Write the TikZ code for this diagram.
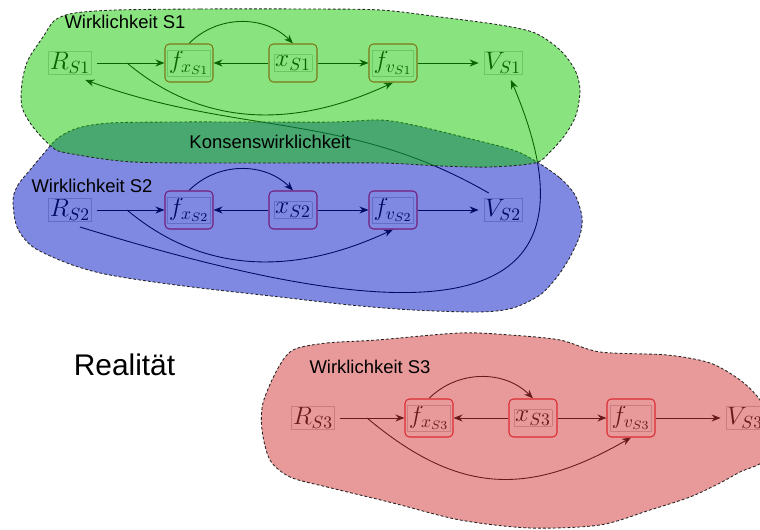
\documentclass[tikz,border=0pt]{standalone}
\usepackage{amsmath,amssymb}
\usepackage{xcolor}
\usepackage{fontspec}
\usepackage{tikz}
\usetikzlibrary{arrows.meta}
\usetikzlibrary{calc}
\newfontfamily\lblfont{Liberation Sans}
\pgfdeclarelayer{edgelayer}
\pgfdeclarelayer{nodelayer}
\pgfdeclarelayer{toplayer}
\pgfsetlayers{edgelayer,nodelayer,main,toplayer}
\definecolor{wgreen}{RGB}{19,201,0}
\definecolor{wblue}{RGB}{0,20,197}
\definecolor{wred}{RGB}{209,51,51}
\definecolor{boxred}{RGB}{228,36,46}
\tikzstyle{none}=[inner sep=0mm]
\tikzstyle{sig}=[inner sep=0pt,outer sep=1mm,font=\Large]
\tikzstyle{fbx}=[draw=boxred,rounded corners=2.5pt,line width=0.6pt,minimum width=0.96cm,minimum height=0.76cm,inner sep=0pt,font=\Large]
\tikzstyle{arr}=[-{Stealth[length=1.8mm,width=1.4mm]},line width=0.5pt]
\tikzstyle{blob}=[draw=black!85,dash pattern=on 1.6pt off 1.2pt,line width=0.5pt,fill opacity=0.5]
\tikzstyle{lbl}=[inner sep=0pt,font=\lblfont\fontsize{10.5}{12.6}\selectfont]
% faint frame round the math of a node
\newcommand{\tb}[1]{{\setlength{\fboxrule}{0.3pt}\setlength{\fboxsep}{0.5pt}\color{black!22}\fbox{\color{black}$#1$}}}

\begin{document}
\begin{tikzpicture}
	\useasboundingbox (0,0) rectangle (15.2,10.6);
	\begin{pgfonlayer}{nodelayer}
		\node [style=sig] (r1) at (1.4, 9.34) {\tb{R_{S1}}};
		\node [style=fbx] (fx1) at (3.78, 9.34) {\tb{f_{x_{S1}}}};
		\node [style=fbx] (x1) at (5.86, 9.34) {\tb{x_{S1}}};
		\node [style=fbx] (fv1) at (7.86, 9.34) {\tb{f_{v_{S1}}}};
		\node [style=sig] (v1) at (10.06, 9.34) {\tb{V_{S1}}};
		\coordinate (b1) at (2.54, 9.34);
		\node [style=sig] (r2) at (1.4, 6.4) {\tb{R_{S2}}};
		\node [style=fbx] (fx2) at (3.78, 6.4) {\tb{f_{x_{S2}}}};
		\node [style=fbx] (x2) at (5.86, 6.4) {\tb{x_{S2}}};
		\node [style=fbx] (fv2) at (7.86, 6.4) {\tb{f_{v_{S2}}}};
		\node [style=sig] (v2) at (10.06, 6.4) {\tb{V_{S2}}};
		\coordinate (b2) at (2.54, 6.4);
		\node [style=sig] (r3) at (6.26, 2.24) {\tb{R_{S3}}};
		\node [style=fbx] (fx3) at (8.58, 2.24) {\tb{f_{x_{S3}}}};
		\node [style=fbx] (x3) at (10.66, 2.24) {\tb{x_{S3}}};
		\node [style=fbx] (fv3) at (12.62, 2.24) {\tb{f_{v_{S3}}}};
		\node [style=sig] (v3) at (14.9, 2.24) {\tb{V_{S3}}};
		\coordinate (b3) at (7.34, 2.24);
	\end{pgfonlayer}
	\begin{pgfonlayer}{edgelayer}
		\draw [style=arr] (r1) to (fx1);
		\draw [style=arr] (x1) to (fx1);
		\draw [style=arr] (x1) to (fv1);
		\draw [style=arr] (fv1) to (v1);
		\draw [style=arr, bend left=45] (fx1.north) to (x1.north);
		\draw [style=arr] (b1) to[out=-40, in=-155] (fv1.south);
		\draw [style=arr] (r2) to (fx2);
		\draw [style=arr] (x2) to (fx2);
		\draw [style=arr] (x2) to (fv2);
		\draw [style=arr] (fv2) to (v2);
		\draw [style=arr, bend left=45] (fx2.north) to (x2.north);
		\draw [style=arr] (b2) to[out=-40, in=-155] (fv2.south);
		\draw [style=arr] (r3) to (fx3);
		\draw [style=arr] (x3) to (fx3);
		\draw [style=arr] (x3) to (fv3);
		\draw [style=arr] (fv3) to (v3);
		\draw [style=arr, bend left=45] (fx3.north) to (x3.north);
		\draw [style=arr] (b3) to[out=-40, in=-150, looseness=1.15] (fv3.south);
		% links between S1 and S2
		\draw [style=arr] (v2.130) to[out=150, in=-20] (r1.-48);
		\draw [style=arr] (r2.-60) .. controls (7, 4.4) and (12.6, 3.4) .. (v1.-65);
	\end{pgfonlayer}
	% the three regions, S1 last so the overlap turns green
	\draw [style=blob, fill=wblue] plot [smooth cycle] coordinates {
		(10.74,7.36) (11.20,7.04) (11.50,6.70) (11.64,6.26) (11.60,5.90) (11.40,5.46)
		(11.14,5.06) (10.80,4.70) (10.26,4.44) (9.60,4.36) (8.26,4.40) (7.00,4.50)
		(5.60,4.66) (4.00,4.84) (2.80,5.00) (2.00,5.14) (1.34,5.34) (0.66,5.66)
		(0.34,6.06) (0.26,6.60) (0.36,6.90) (0.60,7.20) (0.90,7.56) (1.16,7.84)
		(1.56,8.04) (2.20,8.14) (3.50,8.16) (5.00,8.16) (6.66,8.16) (7.60,8.20)
		(8.26,8.10) (9.26,7.86) (10.26,7.60)};
	\draw [style=blob, fill=wgreen] plot [smooth cycle] coordinates {
		(2.34,10.40) (4.00,10.42) (6.00,10.42) (7.60,10.40) (8.80,10.26) (10.00,10.10)
		(10.70,9.94) (11.20,9.60) (11.50,9.20) (11.60,8.80) (11.52,8.30) (11.30,7.90)
		(11.00,7.56) (10.70,7.34) (9.80,7.26) (8.80,7.28) (7.60,7.34) (5.00,7.34)
		(2.66,7.36) (1.34,7.54) (1.04,7.66) (0.66,8.06) (0.44,8.46) (0.44,8.94)
		(0.56,9.40) (0.86,9.86) (1.10,10.20) (1.50,10.34)};
	\draw [style=blob, fill=wred] plot [smooth cycle] coordinates {
		(5.86,3.60) (6.54,3.74) (7.54,3.80) (9.20,3.94) (10.20,3.90) (11.20,3.80)
		(12.00,3.56) (13.34,3.50) (14.20,3.34) (14.80,3.00) (15.20,2.60) (15.50,2.00)
		(15.30,1.40) (14.80,1.16) (14.40,0.94) (13.80,0.66) (13.00,0.40) (12.00,0.10)
		(10.60,0.04) (9.20,0.20) (7.86,0.54) (6.54,0.86) (5.80,1.06) (5.40,1.40)
		(5.24,2.00) (5.26,2.54) (5.54,3.20)};
	\begin{pgfonlayer}{toplayer}
		\node [style=lbl] (w1) at (2.5, 10.16) {Wirklichkeit S1};
		\node [style=lbl] (kons) at (5.4, 7.76) {Konsenswirklichkeit};
		\node [style=lbl] (w2) at (1.84, 6.88) {Wirklichkeit S2};
		\node [style=lbl, font=\lblfont\fontsize{17}{20}\selectfont] (real) at (2.49, 3.3) {Realität};
		\node [style=lbl] (w3) at (7.4, 3.26) {Wirklichkeit S3};
	\end{pgfonlayer}
\end{tikzpicture}
\end{document}
